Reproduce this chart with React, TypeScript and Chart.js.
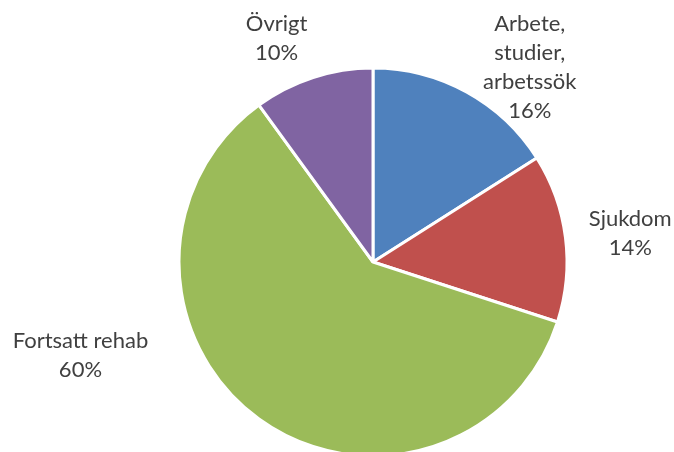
import React, { useEffect, useRef } from "react";
import { Chart, registerables } from "chart.js";

Chart.register(...registerables);

const categories: string[][] = [
  ["Arbete,", "studier,", "arbetssök"],
  ["Sjukdom"],
  ["Fortsatt rehab"],
  ["Övrigt"],
];
const values: number[] = [16, 14, 60, 10];
const colors: string[] = ["#4F81BD", "#C0504D", "#9BBB59", "#8064A2"];
// label block centers relative to pie center, in units of pie radius
const labelOffsets: { dx: number; dy: number }[] = [
  { dx: 0.808, dy: -1.003 },
  { dx: 1.326, dy: -0.148 },
  { dx: -1.508, dy: 0.484 },
  { dx: -0.497, dy: -1.15 },
];

const FONT = "Lato, 'Open Sans', sans-serif";

const labelPlugin = {
  id: "outsideLabels",
  afterDatasetsDraw(chart: any) {
    const ctx = chart.ctx;
    const meta = chart.getDatasetMeta(0);
    const total = values.reduce((a, b) => a + b, 0);
    ctx.save();
    ctx.font = `22px ${FONT}`;
    ctx.fillStyle = "#404040";
    ctx.textAlign = "center";
    ctx.textBaseline = "middle";
    const lh = 29;
    meta.data.forEach((arc: any, i: number) => {
      const r = arc.outerRadius;
      const cx = arc.x + labelOffsets[i].dx * r;
      const cy = arc.y + labelOffsets[i].dy * r;
      const lines = [...categories[i], Math.round((values[i] / total) * 100) + "%"];
      const top = cy - ((lines.length - 1) * lh) / 2;
      lines.forEach((t, j) => ctx.fillText(t, cx, top + j * lh));
    });
    ctx.restore();
  },
};

export default function App() {
  const ref = useRef<HTMLCanvasElement>(null);
  useEffect(() => {
    document.body.style.margin = "0";
    const chart = new Chart(ref.current!, {
      type: "pie",
      data: {
        labels: categories.map((c) => c.join(" ")),
        datasets: [
          {
            data: values,
            backgroundColor: colors,
            borderColor: "#FFFFFF",
            borderWidth: 3,
            clip: false as any,
          },
        ],
      },
      options: {
        responsive: false,
        animation: false,
        radius: 194,
        layout: { padding: { left: 72, right: 0, top: 72, bottom: 0 } },
        plugins: {
          legend: { display: false },
          tooltip: { enabled: false },
        },
      },
      plugins: [labelPlugin],
    });
    return () => chart.destroy();
  }, []);
  return <canvas ref={ref} width={674} height={452} style={{ display: "block" }} />;
}
